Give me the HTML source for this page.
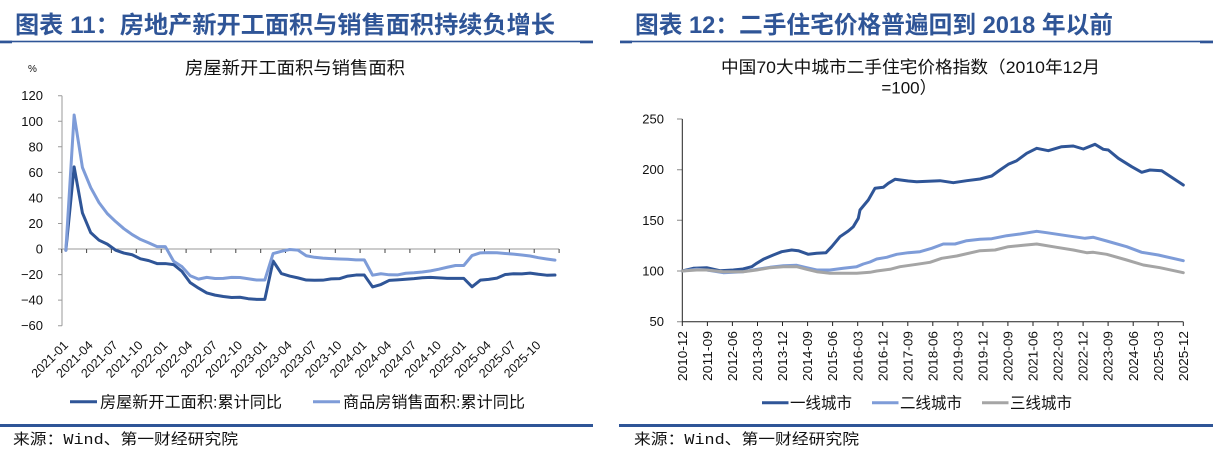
<!DOCTYPE html>
<html><head><meta charset="utf-8">
<style>
html,body{margin:0;padding:0;background:#fff;}
svg{display:block;}
text{font-family:"Liberation Sans","Noto Sans CJK SC",sans-serif;fill:#111;}
.ttl{font-family:"Liberation Sans","Noto Sans CJK SC",sans-serif;font-weight:bold;font-size:24px;fill:#2F5597;}
.yl{font-size:13px;text-anchor:end;}
.xl{font-size:12.5px;text-anchor:end;}
.lg{font-family:"Liberation Sans","Noto Sans CJK SC",sans-serif;font-size:16px;}
.src{font-family:"Liberation Mono","Noto Sans CJK SC",monospace;font-size:15px;}
</style></head>
<body>
<svg width="1215" height="450" viewBox="0 0 1215 450" xmlns="http://www.w3.org/2000/svg">
<rect width="1215" height="450" fill="#fff"/>

<!-- ===== Titles ===== -->
<text class="ttl" x="15" y="33" textLength="540" lengthAdjust="spacingAndGlyphs">图表 11：房地产新开工面积与销售面积持续负增长</text>
<text class="ttl" x="635" y="33" textLength="478" lengthAdjust="spacingAndGlyphs">图表 12：二手住宅价格普遍回到 2018 年以前</text>
<g fill="#2F5597">
<rect x="0" y="40.7" width="593" height="1.6"/>
<rect x="0" y="40.7" width="12" height="2.6"/>
<rect x="580" y="40.7" width="13" height="2.6"/>
<rect x="620" y="40.7" width="593" height="1.6"/>
<rect x="620" y="40.7" width="12" height="2.6"/>
<rect x="1200" y="40.7" width="13" height="2.6"/>
<!-- footer lines -->
<rect x="0" y="424" width="593" height="3"/>
<rect x="619" y="424" width="594" height="3"/>
</g>

<!-- ===== Left chart ===== -->
<text x="28" y="72" font-size="10">%</text>
<text x="185" y="74" font-size="17.5" textLength="220" lengthAdjust="spacingAndGlyphs">房屋新开工面积与销售面积</text>

<g class="yl">
<text x="43" y="100.2">120</text>
<text x="43" y="125.8">100</text>
<text x="43" y="151.3">80</text>
<text x="43" y="176.9">60</text>
<text x="43" y="202.4">40</text>
<text x="43" y="228">20</text>
<text x="43" y="253.5">0</text>
<text x="43" y="279.1">−20</text>
<text x="43" y="304.6">−40</text>
<text x="43" y="330.2">−60</text>
</g>
<g stroke="#9a9a9a" stroke-width="1" fill="none">
<line x1="62" y1="95.7" x2="62" y2="325.7"/>
<path d="M58 95.7H62M58 121.3H62M58 146.8H62M58 172.4H62M58 197.9H62M58 223.5H62M58 249H62M58 274.6H62M58 300.1H62M58 325.7H62"/>
<line x1="62" y1="249" x2="559.1" y2="249"/>
</g>
<path stroke="#444" stroke-width="1" fill="none" d="M61.7 249V253M86.6 249V253M111.4 249V253M136.3 249V253M161.2 249V253M186.1 249V253M210.9 249V253M235.8 249V253M260.7 249V253M285.5 249V253M310.4 249V253M335.3 249V253M360.1 249V253M385 249V253M409.9 249V253M434.8 249V253M459.6 249V253M484.5 249V253M509.4 249V253M534.2 249V253M559.1 249V253"/>

<g transform="translate(65.85,249) scale(8.29,-1.2775)" fill="none" stroke-linejoin="round" stroke-linecap="round">
<polyline vector-effect="non-scaling-stroke" stroke="#2F5597" stroke-width="3" points="0,-1 1,64.3 2,28.2 3,12.8 4,6.9 5,3.8 6,-0.9 7,-3.2 8,-4.5 9,-7.7 10,-9.1 11,-11.4 12,-11.4 13,-12.2 14,-17.5 15,-26.3 16,-30.6 17,-34.4 18,-36.1 19,-37.2 20,-38 21,-37.8 22,-38.9 23,-39.4 24,-39.4 25,-9.4 26,-19.2 27,-21.2 28,-22.6 29,-24.3 30,-24.5 31,-24.4 32,-23.4 33,-23.2 34,-21.2 35,-20.4 36,-20.4 37,-29.7 38,-27.8 39,-24.6 40,-24.2 41,-23.7 42,-23.2 43,-22.5 44,-22.2 45,-22.6 46,-23 47,-23 48,-23 49,-29.6 50,-24.4 51,-23.8 52,-22.8 53,-20 54,-19.4 55,-19.5 56,-18.9 57,-19.8 58,-20.5 59,-20.4"/>
<polyline vector-effect="non-scaling-stroke" stroke="#7E9CD8" stroke-width="3" points="0,-1 1,104.9 2,63.8 3,48.1 4,36.3 5,27.7 6,21.5 7,15.9 8,11.3 9,7.5 10,4.8 11,1.9 12,1.9 13,-9.6 14,-13.8 15,-20.9 16,-23.6 17,-22.2 18,-23.1 19,-23 20,-22.2 21,-22.3 22,-23.3 23,-24.3 24,-24.3 25,-3.6 26,-1.8 27,-0.4 28,-0.9 29,-5.3 30,-6.5 31,-7.1 32,-7.5 33,-7.8 34,-8 35,-8.5 36,-8.5 37,-20.5 38,-19.4 39,-20.2 40,-20.3 41,-19 42,-18.6 43,-18 44,-17.1 45,-15.8 46,-14.3 47,-12.9 48,-12.9 49,-5.1 50,-3 51,-2.8 52,-2.9 53,-3.5 54,-4 55,-4.7 56,-5.5 57,-6.8 58,-7.8 59,-8.7"/>
</g>

<g class="xl">
<text transform="translate(68.9,346) rotate(-45)">2021-01</text>
<text transform="translate(93.7,346) rotate(-45)">2021-04</text>
<text transform="translate(118.6,346) rotate(-45)">2021-07</text>
<text transform="translate(143.5,346) rotate(-45)">2021-10</text>
<text transform="translate(168.3,346) rotate(-45)">2022-01</text>
<text transform="translate(193.2,346) rotate(-45)">2022-04</text>
<text transform="translate(218.1,346) rotate(-45)">2022-07</text>
<text transform="translate(243,346) rotate(-45)">2022-10</text>
<text transform="translate(267.8,346) rotate(-45)">2023-01</text>
<text transform="translate(292.7,346) rotate(-45)">2023-04</text>
<text transform="translate(317.6,346) rotate(-45)">2023-07</text>
<text transform="translate(342.4,346) rotate(-45)">2023-10</text>
<text transform="translate(367.3,346) rotate(-45)">2024-01</text>
<text transform="translate(392.2,346) rotate(-45)">2024-04</text>
<text transform="translate(417.1,346) rotate(-45)">2024-07</text>
<text transform="translate(441.9,346) rotate(-45)">2024-10</text>
<text transform="translate(466.8,346) rotate(-45)">2025-01</text>
<text transform="translate(491.7,346) rotate(-45)">2025-04</text>
<text transform="translate(516.5,346) rotate(-45)">2025-07</text>
<text transform="translate(541.4,346) rotate(-45)">2025-10</text>
</g>

<line x1="70" y1="401.7" x2="97" y2="401.7" stroke="#2F5597" stroke-width="3"/>
<text class="lg" x="100" y="407.5" textLength="182" lengthAdjust="spacingAndGlyphs">房屋新开工面积:累计同比</text>
<line x1="313" y1="401.7" x2="340" y2="401.7" stroke="#7E9CD8" stroke-width="3"/>
<text class="lg" x="343" y="407.5" textLength="182" lengthAdjust="spacingAndGlyphs">商品房销售面积:累计同比</text>

<text class="src" x="13" y="444" textLength="225" lengthAdjust="spacingAndGlyphs">来源：Wind、第一财经研究院</text>

<!-- ===== Right chart ===== -->
<text x="721" y="73" font-size="17" textLength="379" lengthAdjust="spacingAndGlyphs">中国70大中城市二手住宅价格指数（2010年12月</text>
<text x="909" y="93.5" font-size="17" text-anchor="middle">=100）</text>

<g class="yl">
<text x="664" y="123.5">250</text>
<text x="664" y="174.2">200</text>
<text x="664" y="224.8">150</text>
<text x="664" y="275.5">100</text>
<text x="664" y="326.2">50</text>
</g>
<path stroke="#888" stroke-width="1" fill="none" d="M677 119H682.3M677 169.7H682.3M677 220.3H682.3M677 271H682.3M677 321.7H682.3"/>
<g stroke="#222" stroke-width="1" fill="none">
<line x1="682.3" y1="119" x2="682.3" y2="321.7"/>
<line x1="682.3" y1="321.7" x2="1183.3" y2="321.7"/>
<path d="M682.3 321.7V326M707.4 321.7V326M732.4 321.7V326M757.5 321.7V326M782.5 321.7V326M807.6 321.7V326M832.6 321.7V326M857.7 321.7V326M882.7 321.7V326M907.8 321.7V326M932.8 321.7V326M957.9 321.7V326M982.9 321.7V326M1007.9 321.7V326M1033 321.7V326M1058 321.7V326M1083.1 321.7V326M1108.1 321.7V326M1133.2 321.7V326M1158.2 321.7V326M1183.3 321.7V326"/>
</g>

<g fill="none" stroke-width="3" stroke-linejoin="round" stroke-linecap="round">
<polyline stroke="#2F5597" points="682.3,271 693.3,268.3 706.7,267.7 720,270.7 733.3,270 743,269 751.7,266.7 756.7,263.3 763.3,259.3 773.3,255 781.7,251.7 791.7,250 798.3,250.7 808.3,254.3 816.7,253.3 826,252.7 831.7,246.7 840,236.7 848.3,231 853.3,226.7 858.3,218.3 860,210 868.3,200 875,188.3 883.3,187.3 888.3,183.3 895,179.3 908.3,181 916.7,181.7 940,180.7 953.3,182.7 966.7,180.7 980,179 991.7,176 1000,170 1008.3,164.3 1016.7,160.7 1026.7,153.3 1036.7,148.3 1048.3,150.7 1061.7,146.7 1073.3,146 1083.3,149 1095,144.3 1103.3,149.3 1108.3,150 1118.3,158.3 1131.7,166.7 1141.7,172.3 1150,170 1161.7,170.7 1183.3,185"/>
<polyline stroke="#7E9CD8" points="682.3,271 696.7,269.3 706.7,270 723.3,272.7 743.3,271.7 756.7,269.3 770,267.3 783.3,265.7 796.7,265.3 806.7,267.7 816.7,270 830,270 843.3,268.3 856.7,266.7 863.3,264 870,262 876.7,259 886.7,257.3 896.7,254.3 908.3,252.7 920,251.7 931.7,248.3 943.3,244 955,244 966.7,240.7 980,239.3 991.7,238.7 1006.7,235.7 1020,234 1036.7,231.3 1046.7,232.7 1066.7,235.7 1085,238.3 1093.3,237.3 1106.7,241 1126.7,246.7 1141.7,252.3 1158.3,255 1183.3,260.7"/>
<polyline stroke="#A5A5A5" points="682.3,271 696.7,270 706.7,270 723.3,271.7 743.3,271.7 756.7,270 770,267.7 783.3,266.7 796.7,266.7 806.7,269.3 816.7,271.7 830,273.3 856.7,273.3 870,272.3 876.7,271 890,269.3 900,266.7 916.7,264.3 930,262.3 941.7,258.3 956.7,256 980,250.7 995,250 1008.3,246.7 1023.3,245.3 1036.7,244 1056.7,247.3 1073.3,250 1086.7,252.7 1093.3,252.3 1106.7,254.3 1126.7,260 1143.3,265 1160,267.7 1183.3,272.7"/>
</g>

<g class="xl" font-size="13">
<text transform="translate(686.9,331) rotate(-90)" textLength="50" lengthAdjust="spacingAndGlyphs">2010-12</text>
<text transform="translate(712,331) rotate(-90)" textLength="50" lengthAdjust="spacingAndGlyphs">2011-09</text>
<text transform="translate(737,331) rotate(-90)" textLength="50" lengthAdjust="spacingAndGlyphs">2012-06</text>
<text transform="translate(762.1,331) rotate(-90)" textLength="50" lengthAdjust="spacingAndGlyphs">2013-03</text>
<text transform="translate(787.1,331) rotate(-90)" textLength="50" lengthAdjust="spacingAndGlyphs">2013-12</text>
<text transform="translate(812.2,331) rotate(-90)" textLength="50" lengthAdjust="spacingAndGlyphs">2014-09</text>
<text transform="translate(837.2,331) rotate(-90)" textLength="50" lengthAdjust="spacingAndGlyphs">2015-06</text>
<text transform="translate(862.3,331) rotate(-90)" textLength="50" lengthAdjust="spacingAndGlyphs">2016-03</text>
<text transform="translate(887.3,331) rotate(-90)" textLength="50" lengthAdjust="spacingAndGlyphs">2016-12</text>
<text transform="translate(912.4,331) rotate(-90)" textLength="50" lengthAdjust="spacingAndGlyphs">2017-09</text>
<text transform="translate(937.4,331) rotate(-90)" textLength="50" lengthAdjust="spacingAndGlyphs">2018-06</text>
<text transform="translate(962.5,331) rotate(-90)" textLength="50" lengthAdjust="spacingAndGlyphs">2019-03</text>
<text transform="translate(987.5,331) rotate(-90)" textLength="50" lengthAdjust="spacingAndGlyphs">2019-12</text>
<text transform="translate(1012.5,331) rotate(-90)" textLength="50" lengthAdjust="spacingAndGlyphs">2020-09</text>
<text transform="translate(1037.6,331) rotate(-90)" textLength="50" lengthAdjust="spacingAndGlyphs">2021-06</text>
<text transform="translate(1062.6,331) rotate(-90)" textLength="50" lengthAdjust="spacingAndGlyphs">2022-03</text>
<text transform="translate(1087.7,331) rotate(-90)" textLength="50" lengthAdjust="spacingAndGlyphs">2022-12</text>
<text transform="translate(1112.7,331) rotate(-90)" textLength="50" lengthAdjust="spacingAndGlyphs">2023-09</text>
<text transform="translate(1137.8,331) rotate(-90)" textLength="50" lengthAdjust="spacingAndGlyphs">2024-06</text>
<text transform="translate(1162.8,331) rotate(-90)" textLength="50" lengthAdjust="spacingAndGlyphs">2025-03</text>
<text transform="translate(1187.9,331) rotate(-90)" textLength="50" lengthAdjust="spacingAndGlyphs">2025-12</text>
</g>

<line x1="762" y1="402.7" x2="788.5" y2="402.7" stroke="#2F5597" stroke-width="3"/>
<text class="lg" x="790" y="408.5" font-size="15.5" textLength="62" lengthAdjust="spacingAndGlyphs">一线城市</text>
<line x1="872" y1="402.7" x2="898.5" y2="402.7" stroke="#7E9CD8" stroke-width="3"/>
<text class="lg" x="900" y="408.5" font-size="15.5" textLength="62" lengthAdjust="spacingAndGlyphs">二线城市</text>
<line x1="982" y1="402.7" x2="1008.5" y2="402.7" stroke="#A5A5A5" stroke-width="3"/>
<text class="lg" x="1010" y="408.5" font-size="15.5" textLength="62" lengthAdjust="spacingAndGlyphs">三线城市</text>

<text class="src" x="634" y="444" textLength="225" lengthAdjust="spacingAndGlyphs">来源：Wind、第一财经研究院</text>
</svg>
</body></html>
